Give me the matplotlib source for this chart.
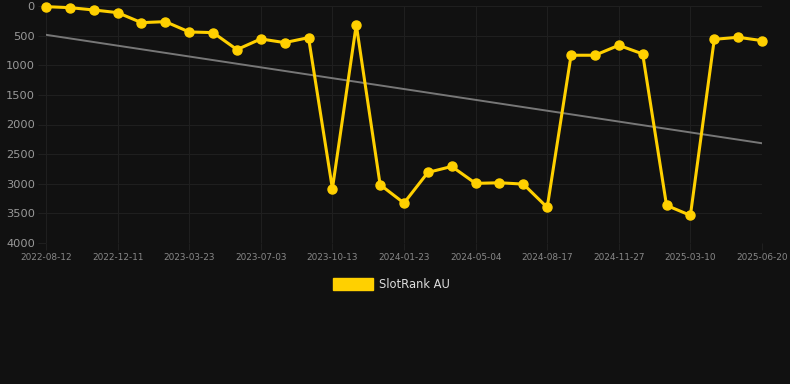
import matplotlib.pyplot as plt
import numpy as np

# rank values (lower = better, axis inverted)
ranks = [11, 28, 67, 112, 281, 264, 438, 449, 736, 556, 618, 534, 3084, 315, 3017,
         3326, 2809, 2708, 2994, 2983, 3006, 3399, 831, 831, 663, 809, 3365, 3534,
         562, 528, 584]
tick_pos = [0, 3, 6, 9, 12, 15, 18, 21, 24, 27, 30]
tick_labels = ['2022-08-12', '2022-12-11', '2023-03-23', '2023-07-03', '2023-10-13',
               '2024-01-23', '2024-05-04', '2024-08-17', '2024-11-27', '2025-03-10',
               '2025-06-20']
y_ticks = [0, 500, 1000, 1500, 2000, 2500, 3000, 3500, 4000]

bg = '#111111'
gold = '#FFD000'
grid = '#1f1f1f'

fig = plt.figure(figsize=(7.9, 3.84), dpi=100, facecolor=bg)
ax = fig.add_axes([46/790, 1 - 243/384, (762-46)/790, (243-6)/384], facecolor=bg)

x = np.arange(len(ranks))
# linear trend line
k, b = np.polyfit(x, ranks, 1)
ax.plot([x[0], x[-1]], [k*x[0] + b, k*x[-1] + b], color='#777777', lw=1.4, zorder=2)

ax.plot(x, ranks, color=gold, lw=2.2, marker='o', ms=6.5, mfc=gold, mec=gold,
        zorder=3, clip_on=False)

ax.set_xlim(0, 30)
ax.set_ylim(4000, 0)
ax.set_xticks(tick_pos)
ax.set_xticklabels(tick_labels)
ax.set_yticks(y_ticks)
ax.grid(True, color=grid, lw=0.8)
ax.tick_params(axis='x', colors=grid, labelcolor='#888888', labelsize=6.4, length=5, pad=2)
ax.tick_params(axis='y', colors=grid, labelcolor='#999999', labelsize=8.2, length=6, pad=2)
for s in ax.spines.values():
    s.set_visible(False)

# legend
fig.patches.append(plt.Rectangle((333/790, 1 - 290/384), 40/790, 12/384,
                                 transform=fig.transFigure, color=gold))
fig.text(379/790, 1 - 284/384, 'SlotRank AU', color='#dddddd', fontsize=8.3, va='center')

fig.savefig('out.png', dpi=100, facecolor=bg)
